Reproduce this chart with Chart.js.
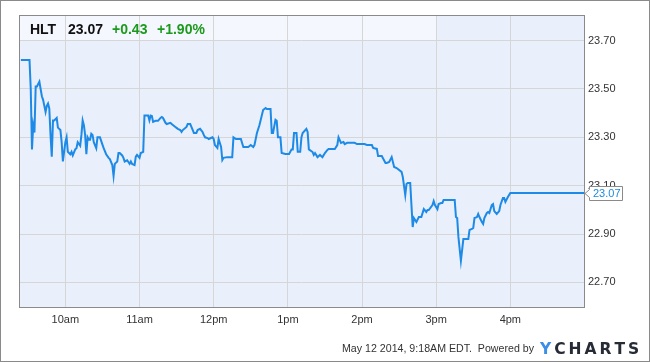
<!DOCTYPE html>
<html>
<head>
<meta charset="utf-8">
<script src="https://cdn.jsdelivr.net/npm/chart.js@4.4.1/dist/chart.umd.min.js"></script>
<style>
  html, body { margin: 0; padding: 0; background: #fff; }
  #wrap { width: 650px; height: 362px; }
</style>
</head>
<body>
<div id="wrap"><canvas id="myChart" width="650" height="362"></canvas></div>
<script>
// HLT intraday, May 12 2014 - time in minutes after midnight, price in USD
var minutes = [
  564,571,572,573,574,575,576,577,579,580,
  581,582,583,584,585,586,587,588,589,590,
  591,593,594,596,597,598,600,601,602,604,
  605,606,608,609,610,612,613,614,615,616,
  617,618,619,620,621,622,623,625,626,628,
  630,631,633,635,636,638,639,640,642,643,
  644,646,647,648,650,652,653,654,656,657,
  658,660,661,663,664,666,667,668,669,670,
  671,673,675,677,678,679,681,682,685,686,
  689,690,691,693,694,695,698,699,701,702,
  704,706,707,709,711,712,713,715,716,719,
  720,721,723,724,726,727,728,731,735,736,
  738,742,744,748,750,752,753,755,757,760,
  762,763,766,767,768,770,771,772,774,775,
  778,781,783,784,785,787,788,790,791,792,
  795,796,797,800,801,802,804,806,808,810,
  812,813,818,820,821,823,825,826,828,830,
  834,836,842,844,848,849,852,853,856,859,
  860,862,864,866,868,869,872,873,875,876,
  877,879,880,881,882,884,886,888,890,892,
  893,894,897,898,899,901,902,904,905,906,
  910,915,916,917,918,920,922,924,926,927,
  929,930,931,933,934,935,937,938,939,941,
  942,943,945,946,947,949,951,952,954,955,
  956,958,960,1020
];
var prices = [
  23.62,23.62,23.50,23.25,23.35,23.32,23.51,23.51,23.53,23.50,
  23.47,23.455,23.43,23.405,23.43,23.44,23.42,23.31,23.22,23.37,
  23.37,23.38,23.34,23.33,23.28,23.20,23.28,23.30,23.24,23.23,
  23.24,23.225,23.25,23.255,23.28,23.265,23.31,23.37,23.35,23.31,
  23.23,23.30,23.29,23.29,23.315,23.31,23.28,23.255,23.30,23.30,
  23.27,23.255,23.23,23.215,23.21,23.185,23.14,23.19,23.20,23.235,
  23.235,23.225,23.215,23.20,23.205,23.19,23.20,23.19,23.185,23.22,
  23.227,23.215,23.235,23.24,23.39,23.39,23.39,23.37,23.39,23.388,
  23.364,23.368,23.368,23.38,23.384,23.38,23.36,23.355,23.36,23.355,
  23.343,23.339,23.335,23.33,23.322,23.33,23.343,23.355,23.355,23.343,
  23.318,23.318,23.33,23.335,23.322,23.31,23.30,23.297,23.293,23.30,
  23.293,23.268,23.256,23.293,23.26,23.206,23.215,23.218,23.218,23.30,
  23.293,23.293,23.26,23.26,23.268,23.26,23.268,23.318,23.35,23.413,
  23.421,23.417,23.417,23.318,23.318,23.372,23.368,23.30,23.30,23.235,
  23.231,23.231,23.25,23.25,23.318,23.318,23.24,23.24,23.30,23.318,
  23.335,23.322,23.25,23.239,23.227,23.235,23.218,23.227,23.218,23.235,
  23.248,23.252,23.252,23.268,23.30,23.277,23.281,23.272,23.277,23.277,
  23.277,23.272,23.272,23.268,23.268,23.256,23.252,23.223,23.223,23.194,
  23.194,23.198,23.218,23.177,23.173,23.169,23.157,23.136,23.061,23.107,
  23.111,23.111,23.02,22.929,22.966,22.95,22.97,22.97,23.003,22.991,
  22.999,22.999,23.02,23.036,23.02,23.003,23.024,23.028,23.028,23.041,
  23.041,23.041,22.97,22.966,22.888,22.789,22.879,22.879,22.879,22.917,
  22.921,22.925,22.966,22.97,22.983,22.97,22.95,22.942,22.966,22.987,
  22.991,22.987,23.02,23.024,22.995,22.983,22.995,23.02,23.049,23.049,
  23.033,23.053,23.07,23.07
];
var hourTicks = [600, 660, 720, 780, 840, 900, 960];
var hourLabels = ['10am', '11am', '12pm', '1pm', '2pm', '3pm', '4pm'];
var priceTicks = [22.7, 22.9, 23.1, 23.3, 23.5, 23.7];

var symbol = 'HLT';
var lastPrice = '23.07';
var change = '+0.43';
var changePct = '+1.90%';
var footerText = 'May 12 2014, 9:18AM EDT.  Powered by';

var FONT = "'Liberation Sans', Arial, sans-serif";
var lineBlue = '#1c8ae6';

var points = minutes.map(function (m, i) { return { x: m, y: prices[i] }; });

var ychartsLook = {
  id: 'ychartsLook',
  beforeDraw: function (chart) {
    var c = chart.ctx, a = chart.chartArea;
    c.save();
    c.fillStyle = '#ffffff';
    c.fillRect(0, 0, chart.width, chart.height);
    c.fillStyle = '#e9effb';
    c.fillRect(a.left, a.top, a.right - a.left, a.bottom - a.top);
    // lighter band behind the quote header
    var yTop = chart.scales.y.getPixelForValue(priceTicks[priceTicks.length - 1]);
    var xEnd = chart.scales.x.getPixelForValue(hourTicks[5]);
    c.fillStyle = '#f4f7fd';
    c.fillRect(a.left, a.top, xEnd - a.left, yTop - a.top);
    c.restore();
  },
  afterDraw: function (chart) {
    var c = chart.ctx, a = chart.chartArea;
    c.save();
    // plot frame
    c.strokeStyle = '#8a8a8a';
    c.lineWidth = 1;
    c.strokeRect(a.left + 0.5, a.top + 0.5, a.right - a.left, a.bottom - a.top);

    // quote header
    c.textBaseline = 'alphabetic';
    c.textAlign = 'left';
    c.font = 'bold 14px ' + FONT;
    c.fillStyle = '#111';
    c.fillText(symbol, 30, 34);
    c.fillText(lastPrice, 68, 34);
    c.fillStyle = '#1c9a1c';
    c.fillText(change, 112, 34);
    c.fillText(changePct, 157, 34);

    // last price callout
    var last = prices[prices.length - 1];
    var yy = Math.round(chart.scales.y.getPixelForValue(last)) + 0.5;
    var x0 = a.right + 1, x1 = a.right + 5.5, x2 = a.right + 38.5;
    c.beginPath();
    c.moveTo(x0, yy);
    c.lineTo(x1, yy - 4);
    c.lineTo(x1, yy - 7);
    c.lineTo(x2, yy - 7);
    c.lineTo(x2, yy + 7);
    c.lineTo(x1, yy + 7);
    c.lineTo(x1, yy + 4);
    c.closePath();
    c.fillStyle = '#fff';
    c.fill();
    c.strokeStyle = '#8a8a8a';
    c.stroke();
    c.font = '11px ' + FONT;
    c.fillStyle = '#1a8be0';
    c.textBaseline = 'middle';
    c.fillText(last.toFixed(2), a.right + 9, yy + 0.5);

    // footer
    c.textBaseline = 'alphabetic';
    c.fillStyle = '#333';
    c.font = '11px ' + FONT;
    c.fillText(footerText, 342, 352, 192);

    // YCHARTS logo
    var logo = 'YCHARTS';
    c.font = 'bold 15.5px "DejaVu Sans", sans-serif';
    var natural = c.measureText(logo).width;
    var gap = (98 - natural) / (logo.length - 1);
    var lx = 540;
    for (var i = 0; i < logo.length; i++) {
      c.fillStyle = i === 0 ? '#3b8de6' : '#262b36';
      c.fillText(logo[i], lx, 353.5);
      lx += c.measureText(logo[i]).width + gap;
    }

    // outer frame
    c.strokeStyle = '#8a8a8a';
    c.strokeRect(0.5, 0.5, chart.width - 1, chart.height - 1);
    c.restore();
  }
};

var ctx = document.getElementById('myChart').getContext('2d');

var myChart = new Chart(ctx, {
  type: 'line',
  data: {
    datasets: [{
      label: symbol,
      data: points,
      borderColor: lineBlue,
      borderWidth: 2,
      pointRadius: 0,
      tension: 0,
      fill: false
    }]
  },
  options: {
    responsive: false,
    animation: false,
    events: [],
    layout: {
      padding: { left: 19, top: 15, right: 0, bottom: 0 }
    },
    plugins: {
      legend: { display: false },
      tooltip: { enabled: false }
    },
    scales: {
      x: {
        type: 'linear',
        min: 562.5,
        max: 1019.6,
        afterBuildTicks: function (s) {
          s.ticks = hourTicks.map(function (v) { return { value: v }; });
        },
        afterFit: function (s) { s.height = 55; },
        ticks: {
          autoSkip: false,
          maxRotation: 0,
          padding: 6,
          color: '#333',
          font: { family: FONT, size: 11 },
          callback: function (v) { return hourLabels[hourTicks.indexOf(v)]; }
        },
        grid: { color: '#d6d6d6', drawTicks: false },
        border: { display: false }
      },
      y: {
        position: 'right',
        min: 22.598,
        max: 23.806,
        afterBuildTicks: function (s) {
          s.ticks = priceTicks.map(function (v) { return { value: v }; });
        },
        afterFit: function (s) { s.width = 66; },
        ticks: {
          padding: 4,
          color: '#333',
          font: { family: FONT, size: 11 },
          callback: function (v) { return v.toFixed(2); }
        },
        grid: { color: '#d6d6d6', drawTicks: false },
        border: { display: false }
      }
    }
  },
  plugins: [ychartsLook]
});
</script>
</body>
</html>
